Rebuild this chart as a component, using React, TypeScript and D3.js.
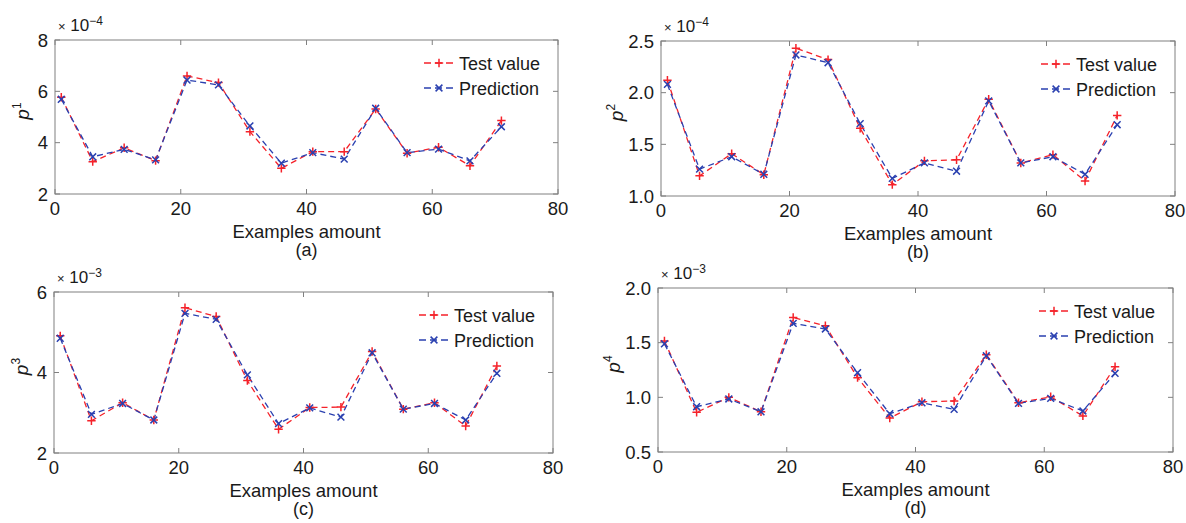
import React from "react";
import * as d3 from "d3";

// sample positions along x
const sampleIdx = [1, 6, 11, 16, 21, 26, 31, 36, 41, 46, 51, 56, 61, 66, 71];
const xTicks = [0, 20, 40, 60, 80];

// values in axis units (multiplier shown above each axis)
const testP1 = [5.77, 3.26, 3.8, 3.3, 6.6, 6.34, 4.43, 3.0, 3.65, 3.65, 5.31, 3.59, 3.82, 3.1, 4.86];
const predP1 = [5.69, 3.45, 3.74, 3.33, 6.44, 6.25, 4.65, 3.2, 3.61, 3.36, 5.34, 3.61, 3.75, 3.29, 4.62];

const testP2 = [2.12, 1.195, 1.41, 1.206, 2.43, 2.32, 1.655, 1.11, 1.34, 1.35, 1.936, 1.32, 1.4, 1.145, 1.78];
const predP2 = [2.08, 1.26, 1.38, 1.21, 2.365, 2.29, 1.7, 1.17, 1.32, 1.24, 1.92, 1.32, 1.38, 1.21, 1.69];

const testP3 = [4.91, 2.8, 3.25, 2.82, 5.61, 5.39, 3.8, 2.59, 3.13, 3.14, 4.52, 3.09, 3.25, 2.67, 4.16];
const predP3 = [4.85, 2.96, 3.23, 2.82, 5.47, 5.32, 3.94, 2.73, 3.12, 2.89, 4.49, 3.09, 3.23, 2.82, 3.98];

const testP4 = [1.515, 0.863, 1.0, 0.868, 1.73, 1.655, 1.18, 0.81, 0.96, 0.966, 1.39, 0.95, 1.005, 0.83, 1.28];
const predP4 = [1.49, 0.914, 0.985, 0.868, 1.677, 1.625, 1.225, 0.85, 0.95, 0.89, 1.38, 0.945, 0.99, 0.875, 1.22];

const seriesNames = ["Test value", "Prediction"];

const RED = "#f5222a";
const BLUE = "#2a40b0";
const GRID = "#808080";
const TXT = "#1a1a1a";
const FONT = "'Liberation Sans', Arial, sans-serif";

type Box = { l: number; t: number; r: number; b: number };

const panels = [
  { tag: "(a)", sup: "1", exp: "−4", test: testP1, pred: predP1, yDomain: [2, 8], yTicks: [2, 4, 6, 8], fmt: d3.format("d"), box: { l: 55, t: 40, r: 558, b: 194 }, labelOff: 26 },
  { tag: "(b)", sup: "2", exp: "−4", test: testP2, pred: predP2, yDomain: [1, 2.5], yTicks: [1, 1.5, 2, 2.5], fmt: d3.format(".1f"), box: { l: 661, t: 41, r: 1175, b: 196 }, labelOff: 38 },
  { tag: "(c)", sup: "3", exp: "−3", test: testP3, pred: predP3, yDomain: [2, 6], yTicks: [2, 4, 6], fmt: d3.format("d"), box: { l: 54, t: 292, r: 553, b: 453 }, labelOff: 26 },
  { tag: "(d)", sup: "4", exp: "−3", test: testP4, pred: predP4, yDomain: [0.5, 2], yTicks: [0.5, 1, 1.5, 2], fmt: d3.format(".1f"), box: { l: 658, t: 288, r: 1173, b: 452 }, labelOff: 38 },
];

function plusPath(x: number, y: number, s = 4.2) {
  return `M${x - s},${y}H${x + s}M${x},${y - s}V${y + s}`;
}
function crossPath(x: number, y: number, s = 3.4) {
  return `M${x - s},${y - s}L${x + s},${y + s}M${x - s},${y + s}L${x + s},${y - s}`;
}

function Panel({ p }: { p: (typeof panels)[number] }) {
  const box: Box = p.box;
  const x = d3.scaleLinear().domain([0, 80]).range([box.l, box.r]);
  const y = d3.scaleLinear().domain(p.yDomain).range([box.b, box.t]);
  const line = d3
    .line<number>()
    .x((_, i) => x(sampleIdx[i]))
    .y((d) => y(d));
  const tl = 5;
  const cx = (box.l + box.r) / 2;
  const cy = (box.t + box.b) / 2;
  const legX = box.r - 134;

  return (
    <g>
      <rect x={box.l} y={box.t} width={box.r - box.l} height={box.b - box.t} fill="white" stroke={GRID} strokeWidth={1} />
      {xTicks.map((t) => (
        <g key={"x" + t}>
          <line x1={x(t)} x2={x(t)} y1={box.b} y2={box.b - tl} stroke={GRID} />
          <line x1={x(t)} x2={x(t)} y1={box.t} y2={box.t + tl} stroke={GRID} />
          <text x={x(t)} y={box.b + 21} textAnchor="middle" fontSize={18.5} fill={TXT}>
            {t}
          </text>
        </g>
      ))}
      {p.yTicks.map((t) => (
        <g key={"y" + t}>
          <line x1={box.l} x2={box.l + tl} y1={y(t)} y2={y(t)} stroke={GRID} />
          <line x1={box.r} x2={box.r - tl} y1={y(t)} y2={y(t)} stroke={GRID} />
          <text x={box.l - 7} y={y(t) + 6.5} textAnchor="end" fontSize={18.5} fill={TXT}>
            {p.fmt(t)}
          </text>
        </g>
      ))}

      {/* scale multiplier */}
      <text x={box.l + 3} y={box.t - 9} fontSize={17} fill={TXT}>
        <tspan fontSize={13}>×</tspan> 10
        <tspan dy={-6} fontSize={12}>
          {p.exp}
        </tspan>
      </text>

      {/* series */}
      <path d={line(p.test) || ""} fill="none" stroke={RED} strokeWidth={1.3} strokeDasharray="6 4" />
      <path d={line(p.pred) || ""} fill="none" stroke={BLUE} strokeWidth={1.3} strokeDasharray="6 4" />
      {p.test.map((v, i) => (
        <path key={"t" + i} d={plusPath(x(sampleIdx[i]), y(v))} stroke={RED} strokeWidth={1.5} />
      ))}
      {p.pred.map((v, i) => (
        <path key={"p" + i} d={crossPath(x(sampleIdx[i]), y(v))} stroke={BLUE} strokeWidth={1.5} />
      ))}

      {/* legend */}
      {[RED, BLUE].map((c, k) => {
        const ly = box.t + 23 + k * 25;
        return (
          <g key={"leg" + k}>
            <line x1={legX} x2={legX + 30} y1={ly} y2={ly} stroke={c} strokeWidth={1.3} strokeDasharray="7 4" />
            <path d={k === 0 ? plusPath(legX + 15, ly) : crossPath(legX + 15, ly)} stroke={c} strokeWidth={1.5} />
            <text x={legX + 35} y={ly + 6.5} fontSize={18} fill={TXT}>
              {seriesNames[k]}
            </text>
          </g>
        );
      })}

      {/* axis labels */}
      <text x={cx} y={box.b + 44} textAnchor="middle" fontSize={18.5} fill={TXT}>
        Examples amount
      </text>
      <text x={cx} y={box.b + 62} textAnchor="middle" fontSize={18} fill={TXT}>
        {p.tag}
      </text>
      <text transform={`translate(${box.l - p.labelOff},${cy - 6}) rotate(-90)`} textAnchor="middle" fontSize={19} fill={TXT}>
        <tspan fontStyle="italic">p</tspan>
        <tspan dy={-8} fontSize={12}>
          {p.sup}
        </tspan>
      </text>
    </g>
  );
}

export default function App() {
  return (
    <svg
      width={1186}
      height={523}
      style={{ position: "absolute", left: 0, top: 0, background: "white" }}
      fontFamily={FONT}
    >
      <rect width={1186} height={523} fill="white" />
      {panels.map((p) => (
        <Panel key={p.tag} p={p} />
      ))}
    </svg>
  );
}
